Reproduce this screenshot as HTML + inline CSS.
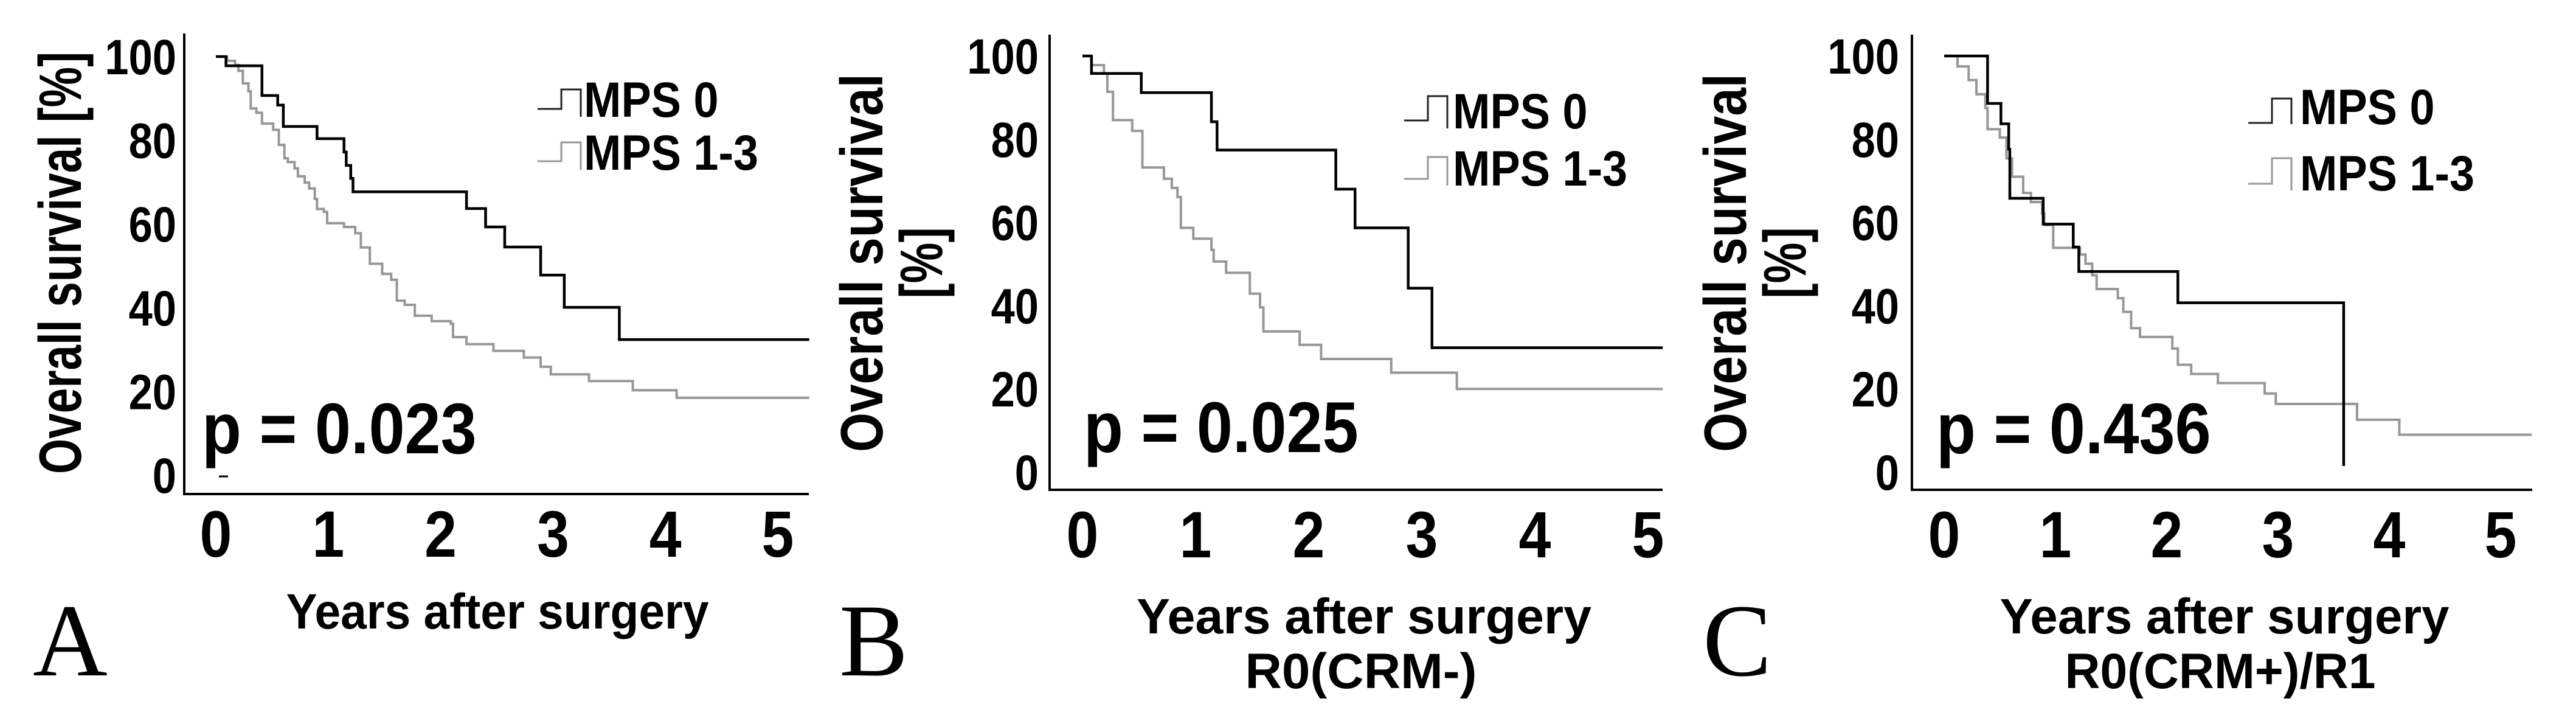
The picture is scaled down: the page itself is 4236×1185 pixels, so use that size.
<!DOCTYPE html>
<html><head><meta charset="utf-8"><style>
html,body{margin:0;padding:0;background:#fff;}
svg{display:block;}
text{font-family:"Liberation Sans",Arial,sans-serif;font-weight:bold;fill:#000;}
.serif{font-family:"Liberation Serif",serif;font-weight:normal;}
</style></head><body>
<svg id="fig" width="4236" height="1185" viewBox="0 0 4236 1185" xmlns="http://www.w3.org/2000/svg"></svg>
<script>
// Panel A data
const aMps0Times=[0.09,0.41,0.55,0.6,0.9,1.14,1.16,1.2,1.22,2.23,2.4,2.57,2.89,3.1,3.59];
const aMps0Vals=[97.8,90.7,88.4,83.3,80.4,77.2,74,70.9,67.7,63.7,59.3,54.5,47.8,40.1,32.4];
const aMps13Times=[0.1,0.17,0.2,0.24,0.29,0.31,0.36,0.41,0.51,0.56,0.61,0.64,0.7,0.73,0.79,0.83,0.88,0.9,0.96,0.99,1.14,1.24,1.29,1.37,1.48,1.56,1.61,1.68,1.77,1.92,2.09,2.11,2.23,2.47,2.74,2.89,2.98,3.32,3.71,4.1];
const aMps13Vals=[99,98,96.6,93.6,91.7,87.6,86.6,84,82.5,78.9,75.7,74.8,73.3,71.4,69.9,68.5,66,63.6,62.9,60.2,59.3,57.8,54.4,50.5,48.1,46.7,41.7,40.7,38.1,36.8,36.2,33,31.3,29.7,28.1,25.9,24.1,22.5,20.3,18.5];
// Panel B data
const bMps0Times=[0.08,0.52,1.14,1.19,2.24,2.41,2.88,3.09];
const bMps0Vals=[95.8,91.2,84.2,77.4,68,58.7,44.2,29.9];
const bMps13Times=[0.08,0.19,0.22,0.27,0.44,0.53,0.72,0.79,0.84,0.87,0.98,1.14,1.16,1.27,1.48,1.57,1.6,1.92,2.11,2.73,3.31];
const bMps13Vals=[97.8,95.8,91.4,84.6,82,73.2,70.5,68.3,66.1,58.7,56.1,53.4,50.6,47.9,42.9,39.6,33.8,30.6,27.2,23.9,20];
// Panel C data
const cMps0Times=[0.39,0.51,0.58,0.59,0.89,1.16,1.21,2.1,3.59];
const cMps0Vals=[88.6,83.7,77.6,65.8,59.6,54.1,48.2,40.7,1.5];
const cMps13Times=[0.12,0.22,0.29,0.37,0.39,0.5,0.56,0.61,0.71,0.78,0.88,0.9,0.98,1.22,1.27,1.33,1.37,1.56,1.61,1.68,1.76,2.05,2.1,2.22,2.46,2.88,2.98,3.71,4.09];
const cMps13Vals=[97.5,94.2,90.8,87.5,82.4,80.4,75.4,71,67.1,64.9,62.2,59.4,53.9,52.3,50.1,47.3,44,41.8,38.5,34.6,32.5,29.7,25.8,23.6,21.4,18.9,16.4,12.6,9];
const yTicks=[0,20,40,60,80,100];
const xTicks=[0,1,2,3,4,5];
const pValues=["p = 0.023","p = 0.025","p = 0.436"];

const NS="http://www.w3.org/2000/svg";
const svg=document.getElementById('fig');
function mk(tag,attrs,parent){const e=document.createElementNS(NS,tag);for(const k in attrs)e.setAttribute(k,attrs[k]);(parent||svg).appendChild(e);return e;}
function squash(t,f){const w=t.getComputedTextLength();t.setAttribute('textLength',(w*f).toFixed(1));t.setAttribute('lengthAdjust','spacingAndGlyphs');}

const panels=[
 {id:'a',ax:303,top:55,base:812,right:1330,x0:355,px:184.8,y100:93,py:6.88,tEnd:5.28,endDrop:false,
  s0t:aMps0Times,s0v:aMps0Vals,s1t:aMps13Times,s1v:aMps13Vals,tickRight:290,xTickBase:915,pX:332,pBase:745,
  legX:884,legTX:960,leg0:[179,147,192],leg1:[265,234,279],
  yTitle:[{t:"Overall survival [%]",x:98,len:694}],xTitle:[{t:"Years after surgery",x:818,y:1033,len:695}],
  letter:"A",letterX:54},
 {id:'b',ax:1726,top:57,base:805,right:2734,x0:1780,px:186,y100:92,py:6.84,tEnd:5.13,endDrop:false,
  s0t:bMps0Times,s0v:bMps0Vals,s1t:bMps13Times,s1v:bMps13Vals,tickRight:1708,xTickBase:916,pX:1782,pBase:743,
  legX:2309,legTX:2389,leg0:[198,158,211],leg1:[294,258,305],
  yTitle:[{t:"Overall survival",x:1416,len:622},{t:"[%]",x:1514,len:117}],
  xTitle:[{t:"Years after surgery",x:2243,y:1041,len:748},{t:"R0(CRM-)",x:2238,y:1131,len:381}],
  letter:"B",letterX:1380},
 {id:'c',ax:3144,top:57,base:805,right:4164,x0:3197,px:183,y100:92,py:6.84,tEnd:5.28,endDrop:true,
  s0t:cMps0Times,s0v:cMps0Vals,s1t:cMps13Times,s1v:cMps13Vals,tickRight:3123,xTickBase:916,pX:3184,pBase:745,
  legX:3697,legTX:3782,leg0:[202,162,204],leg1:[302,260,313],
  yTitle:[{t:"Overall survival",x:2836,len:622},{t:"[%]",x:2934,len:117}],
  xTitle:[{t:"Years after surgery",x:3658,y:1041,len:739},{t:"R0(CRM+)/R1",x:3651,y:1131,len:511}],
  letter:"C",letterX:2800}
];

function stepPath(p,times,vals,drop){
 const X=t=>p.x0+t*p.px, Y=v=>p.y100+(100-v)*p.py;
 let d=`M${X(0)},${Y(100)}`;
 for(let i=0;i<times.length;i++){d+=` H${X(times[i])} V${Y(vals[i])}`;}
 if(!drop)d+=` H${X(p.tEnd)}`;
 return d;
}

panels.forEach((p,pi)=>{
 const g=mk('g',{});
 
 
 const X=t=>p.x0+t*p.px, Y=v=>p.y100+(100-v)*p.py;
 const yax=mk('line',{x1:p.ax,y1:p.top,x2:p.ax,y2:p.base,stroke:'#000','stroke-width':4},g);
 
 
 const xax=mk('line',{x1:p.ax-2,y1:p.base,x2:p.right,y2:p.base,stroke:'#000','stroke-width':4},g);
 
 
 yTicks.forEach(v=>{
  const t=mk('text',{x:p.tickRight,y:Y(v)+29,'text-anchor':'end','font-size':82},g);t.textContent=v;
  
  
  squash(t,0.86);
 });
 xTicks.forEach(v=>{
  const t=mk('text',{x:X(v),y:p.xTickBase,'text-anchor':'middle','font-size':108},g);t.textContent=v;
  
  
  squash(t,0.88);
 });
 const s1=mk('path',{d:stepPath(p,p.s1t,p.s1v,false),fill:'none',stroke:'#9b9696','stroke-width':4},g);
 
 
 const s0=mk('path',{d:stepPath(p,p.s0t,p.s0v,p.endDrop),fill:'none',stroke:'#000','stroke-width':4.5},g);
 
 
 const pv=mk('text',{x:p.pX,y:p.pBase,'font-size':118},g);pv.textContent=pValues[pi];
 
 
 squash(pv,0.9);
 const L=p.legX,W=71;
 const i0=mk('path',{d:`M${L},${p.leg0[0]} H${L+W*0.55} V${p.leg0[1]} H${L+W} V${p.leg0[2]}`,fill:'none',stroke:'#222','stroke-width':3},g);
 
 
 const i1=mk('path',{d:`M${L},${p.leg1[0]} H${L+W*0.55} V${p.leg1[1]} H${L+W} V${p.leg1[2]}`,fill:'none',stroke:'#9b9696','stroke-width':3},g);
 
 
 const t0=mk('text',{x:p.legTX,y:p.leg0[2],'font-size':82},g);t0.textContent="MPS 0";
 
 
 squash(t0,0.9);
 const t1=mk('text',{x:p.legTX,y:p.leg1[2],'font-size':82},g);t1.textContent="MPS 1-3";
 
 
 squash(t1,0.9);
 p.yTitle.forEach(o=>{
  const t=mk('text',{x:0,y:0,'text-anchor':'middle','font-size':98,textLength:o.len,lengthAdjust:'spacingAndGlyphs',transform:`translate(${o.x+35},432) rotate(-90)`},g);
  t.textContent=o.t;
  
  
 });
 p.xTitle.forEach(o=>{
  const t=mk('text',{x:o.x,y:o.y,'text-anchor':'middle','font-size':82,textLength:o.len,lengthAdjust:'spacingAndGlyphs'},g);
  t.textContent=o.t;
  
  
 });
 const lt=mk('text',{x:p.letterX,y:1110,'font-size':170,class:'serif'},g);lt.textContent=p.letter;
 
 
});
const cm=mk('line',{x1:360,y1:783,x2:375,y2:783,stroke:'#000','stroke-width':3});


</script>
</body></html>
